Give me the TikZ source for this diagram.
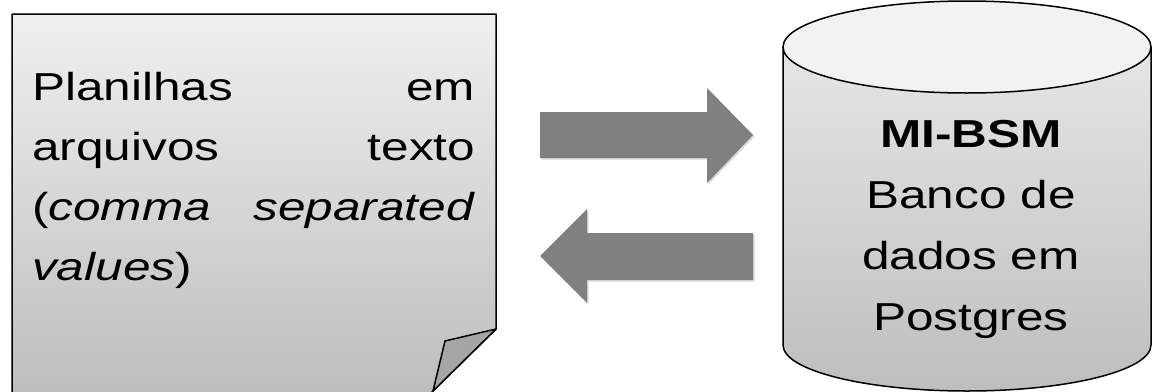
\documentclass[tikz,border=0pt]{standalone}
\usepackage{fontspec}
\setmainfont{Liberation Sans}[FakeStretch=1.27]
\usetikzlibrary{shadows}
\definecolor{doctop}{HTML}{F0F0F0}
\definecolor{docbot}{HTML}{BDBDBD}
\definecolor{foldc}{HTML}{A6A6A6}
\definecolor{arrowc}{HTML}{808080}
\definecolor{captop}{HTML}{F2F2F2}
\definecolor{cyltop}{HTML}{E6E6E6}
\definecolor{cylbot}{HTML}{BEBEBE}
\begin{document}
\begin{tikzpicture}[x=1pt,y=-1pt,
  outline/.style={draw=black,line width=1.5pt,line join=round},
  blockarrow/.style={fill=arrowc,drop shadow={shadow xshift=1.5pt,shadow yshift=-1.5pt,opacity=0.15,fill=black}},
  lefttext/.style={font=\fontsize{39}{60}\selectfont,inner sep=0pt},
  righttext/.style={font=\fontsize{39}{61}\selectfont,inner sep=0pt}]
\useasboundingbox (0,0) rectangle (1153,391);
\clip (0,0) rectangle (1153,391);
% document shape
\path[outline,top color=doctop,bottom color=docbot]
  (12,14) -- (496,14) -- (496,329) -- (429,395) -- (12,395) -- cycle;
\path[outline,fill=foldc] (496,329) -- (445,341) -- (433,391) -- cycle;
\node[lefttext,anchor=base west] (doctext) at (32,100)
  {\parbox[t]{443pt}{\hyphenpenalty=10000 \exhyphenpenalty=10000 \tolerance=10000
   Planilhas em\linebreak arquivos texto\linebreak (\textit{comma separated}\linebreak\textit{values})}};
% arrows
\path[blockarrow] (540,112) -- (707,112) -- (707,88) -- (753,135) -- (707,183) -- (707,158) -- (540,158) -- cycle;
\path[blockarrow] (753,233) -- (587,233) -- (587,209) -- (540,256) -- (587,303) -- (587,280) -- (753,280) -- cycle;
% cylinder
\path[outline,top color=cyltop,bottom color=cylbot]
  (783,47) -- (783,345) arc[start angle=180,end angle=360,x radius=184pt,y radius=46pt] -- (1151,47) -- cycle;
\path[outline,fill=captop] (967,47) ellipse[x radius=184pt,y radius=46pt];
\node[righttext,anchor=base] (dbtext) at (971,147)
  {\parbox[t]{340pt}{\centering\textbf{MI-BSM}\\Banco de\\dados em\\Postgres}};
\end{tikzpicture}
\end{document}
